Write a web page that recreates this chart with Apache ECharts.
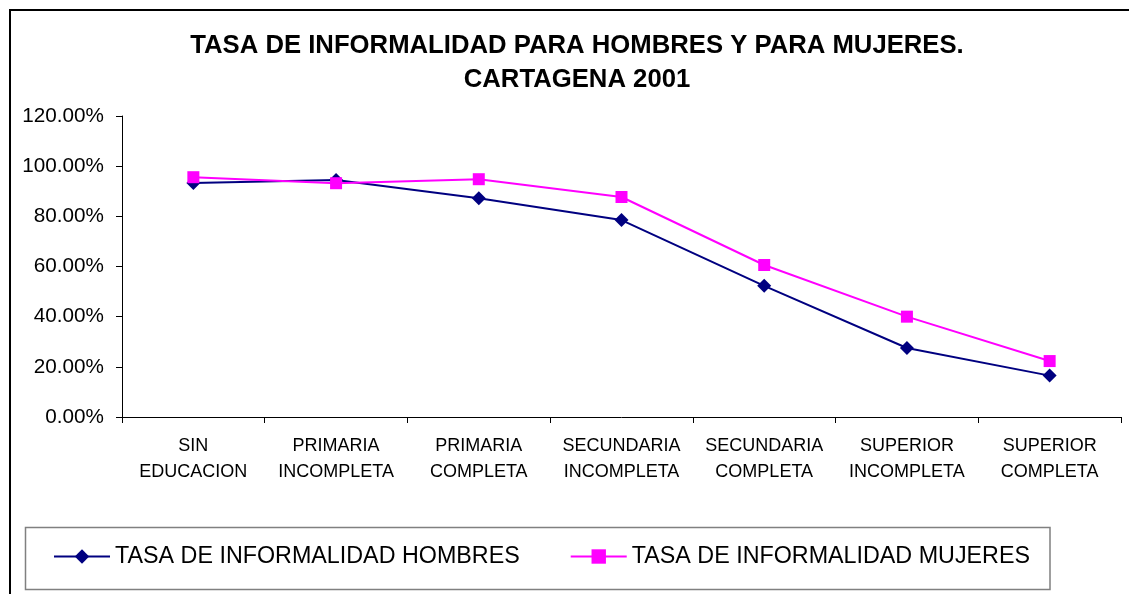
<!DOCTYPE html>
<html>
<head>
<meta charset="utf-8">
<script src="https://cdn.jsdelivr.net/npm/echarts@6/dist/echarts.min.js"></script>
<style>
  html, body { margin: 0; padding: 0; background: #fff; }
  #chart { width: 1129px; height: 594px; }
</style>
</head>
<body>
<div id="chart"></div>
<script>
const categories = [
  'SIN\nEDUCACION',
  'PRIMARIA\nINCOMPLETA',
  'PRIMARIA\nCOMPLETA',
  'SECUNDARIA\nINCOMPLETA',
  'SECUNDARIA\nCOMPLETA',
  'SUPERIOR\nINCOMPLETA',
  'SUPERIOR\nCOMPLETA'
];
const hombres = [0.933, 0.945, 0.872, 0.785, 0.523, 0.275, 0.165];
const mujeres = [0.956, 0.932, 0.948, 0.877, 0.606, 0.400, 0.223];
const yTicks = { min: 0, max: 1.2, interval: 0.2 };

const chart = echarts.init(document.getElementById('chart'));
const font = 'Liberation Sans, Arial, sans-serif';

const option = {
  animation: false,
  backgroundColor: '#fff',
  textStyle: { fontFamily: font },
  title: {
    text: 'TASA DE INFORMALIDAD PARA HOMBRES Y PARA MUJERES.\nCARTAGENA 2001',
    left: 577,
    textAlign: 'center',
    top: 29,
    padding: 0,
    textStyle: {
      fontFamily: font,
      fontSize: 25.7,
      fontWeight: 'bold',
      color: '#000',
      lineHeight: 34
    }
  },
  graphic: [
    {
      type: 'rect',
      shape: { x: 10, y: 10, width: 2000, height: 2000 },
      style: { fill: 'none', stroke: '#000', lineWidth: 2 },
      silent: true
    },
    {
      type: 'rect',
      shape: { x: 25.5, y: 527.5, width: 1024.5, height: 62 },
      style: { fill: 'none', stroke: '#808080', lineWidth: 1.5 },
      silent: true
    }
  ],
  legend: {
    left: 53,
    top: 545,
    padding: 0,
    itemGap: 50,
    itemWidth: 56,
    itemHeight: 18,
    textStyle: { fontFamily: font, fontSize: 23.3, color: '#000' },
    data: ['TASA DE INFORMALIDAD HOMBRES', 'TASA DE INFORMALIDAD MUJERES']
  },
  grid: { left: 122, top: 116, right: 8, bottom: 177 },
  xAxis: {
    type: 'category',
    data: categories,
    boundaryGap: true,
    axisLine: { lineStyle: { color: '#000', width: 1 } },
    axisTick: { show: true, length: 6, inside: false, lineStyle: { color: '#000' } },
    axisLabel: {
      interval: 0,
      margin: 16,
      fontFamily: font,
      fontSize: 18,
      lineHeight: 26,
      color: '#000'
    },
    splitLine: { show: false }
  },
  yAxis: {
    type: 'value',
    min: yTicks.min,
    max: yTicks.max,
    interval: yTicks.interval,
    axisLine: { show: true, lineStyle: { color: '#000', width: 1 } },
    axisTick: { show: true, length: 6, lineStyle: { color: '#000' } },
    axisLabel: {
      margin: 18,
      fontFamily: font,
      fontSize: 20.7,
      color: '#000',
      formatter: function (val) {
        return (val * 100).toFixed(2) + '%';
      }
    },
    splitLine: { show: false }
  },
  series: [
    {
      name: 'TASA DE INFORMALIDAD HOMBRES',
      type: 'line',
      data: hombres,
      symbol: 'diamond',
      symbolSize: 14,
      itemStyle: { color: '#000080' },
      lineStyle: { color: '#000080', width: 2 }
    },
    {
      name: 'TASA DE INFORMALIDAD MUJERES',
      type: 'line',
      data: mujeres,
      symbol: 'rect',
      symbolSize: 12,
      itemStyle: { color: '#ff00ff' },
      lineStyle: { color: '#ff00ff', width: 2 }
    }
  ]
};

chart.setOption(option);
</script>
</body>
</html>
